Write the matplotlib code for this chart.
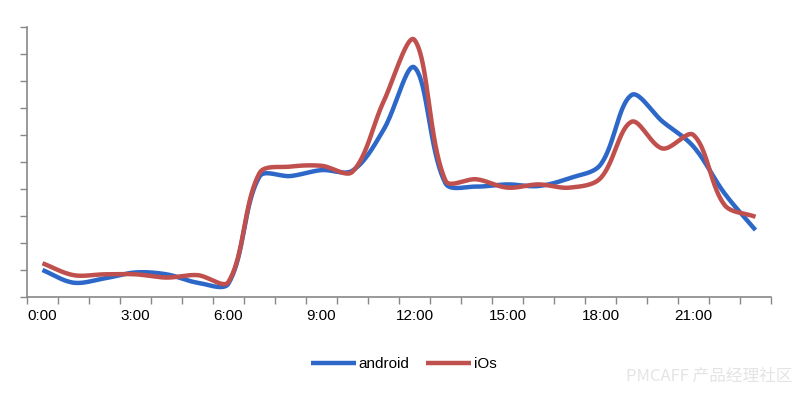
import matplotlib
matplotlib.use('Agg')
import matplotlib.pyplot as plt
import numpy as np

# 每小时数据(相对值, 原图无纵轴刻度)
hours = ['%d:00' % h for h in range(24)]
android = [10.0, 5.3, 6.9, 9.1, 8.4, 5.3, 5.0, 44.6, 44.8, 47.0, 46.8, 61.9,
           85.0, 42.1, 40.9, 41.7, 41.1, 44.0, 49.0, 74.8, 65.0, 55.7, 38.4, 24.8]
ios = [12.5, 8.1, 8.4, 8.4, 7.2, 8.1, 5.6, 45.9, 48.3, 48.6, 46.4, 72.3,
       95.2, 43.1, 43.6, 40.5, 41.7, 40.5, 44.0, 64.9, 55.0, 60.0, 34.1, 29.7]
label_every = 3

plt.rcParams['font.family'] = ['Liberation Sans', 'DejaVu Sans']


def smooth(y, sx=31.0, sy=2.7, n=40):
    # 类似Excel的平滑线: 贝塞尔曲线, 控制点按相邻弦长加权
    p = np.column_stack([np.arange(len(y)) * sx, np.asarray(y, float) * sy])
    p = np.vstack([p[:1], p, p[-1:]])  # 端点重复
    d = np.linalg.norm(np.diff(p, axis=0), axis=1)
    t = np.linspace(0, 1, n, endpoint=False)[:, None]
    pts = []
    for i in range(1, len(p) - 2):
        p0, p1, p2, p3 = p[i - 1], p[i], p[i + 1], p[i + 2]
        d01, d12, d23 = d[i - 1], d[i], d[i + 1]
        c1 = p1 + (p2 - p0) * d12 / (d01 + d12) / 3
        c2 = p2 - (p3 - p1) * d12 / (d12 + d23) / 3
        pts.append((1 - t)**3 * p1 + 3 * (1 - t)**2 * t * c1
                   + 3 * (1 - t) * t**2 * c2 + t**3 * p2)
    pts.append(p[-1:])
    pts = np.vstack(pts)
    return pts[:, 0] / sx, pts[:, 1] / sy


fig = plt.figure(figsize=(8.02, 3.97), dpi=100)
ax = fig.add_axes([27 / 802, 1 - 297 / 397, (771 - 27) / 802, (297 - 27) / 397])

xb, yb = smooth(android)
xr, yr = smooth(ios)
ax.plot(xb, yb, color='#2D68C8', lw=3.2, solid_capstyle='butt', label='android')
ax.plot(xr, yr, color='#C0504D', lw=3.2, solid_capstyle='butt', label='iOs')

ax.set_xlim(-0.5, len(hours) - 0.5)
ax.set_ylim(0, 100)
ax.set_yticks(np.arange(0, 101, 10))
ax.set_yticklabels([])
ax.set_xticks(np.arange(-0.5, len(hours), 1))
ax.set_xticklabels([])
ax.set_xticks(np.arange(0, len(hours), label_every), minor=True)
ax.set_xticklabels(hours[::label_every], minor=True)
ax.tick_params(axis='x', which='major', direction='out', length=5, width=1, color='#888888')
ax.tick_params(axis='x', which='minor', length=0, pad=9, labelsize=11)
ax.tick_params(axis='y', direction='out', length=5, width=1, color='#888888')
for s in ['top', 'right']:
    ax.spines[s].set_visible(False)
for s in ['left', 'bottom']:
    ax.spines[s].set_color('#888888')
    ax.spines[s].set_linewidth(1.2)

fig.legend(loc='center', bbox_to_anchor=(404 / 802, 1 - 364 / 397), ncol=2,
           frameon=False, fontsize=11, handlelength=2.9, handletextpad=0.2,
           columnspacing=1.1)

# 水印
fig.text(792 / 802, 1 - 376 / 397, 'PMCAFF 产品经理社区', ha='right', va='center',
         fontsize=12, color='#e4e4e4', family=['Noto Sans CJK SC', 'DejaVu Sans'])

fig.savefig('out.png', dpi=100)
